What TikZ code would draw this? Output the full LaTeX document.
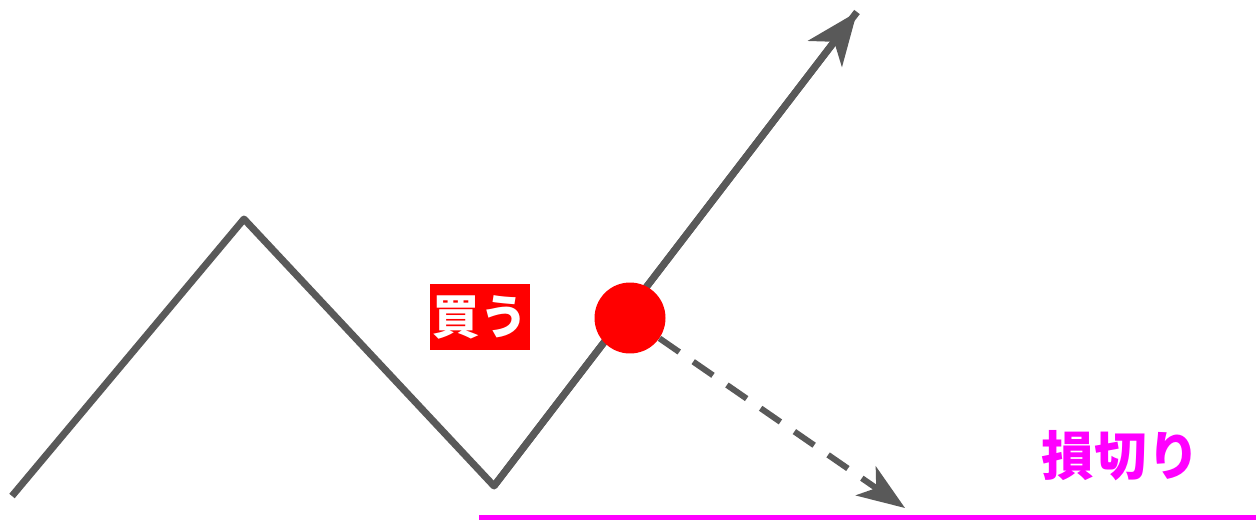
\documentclass[tikz,border=0pt]{standalone}
\usepackage{fontspec}
\newfontfamily\jpfont{Noto Sans CJK JP}
\usetikzlibrary{arrows.meta}
\definecolor{chartgray}{HTML}{595959}
\definecolor{magentaline}{HTML}{FF00FF}
\begin{document}
\begin{tikzpicture}[x=0.02cm, y=-0.02cm, >={Stealth[length=1.05cm, width=0.85cm, inset=0.3cm]}]
  \useasboundingbox (0,0) rectangle (1256,524);
  \coordinate (S) at (12,496);
  \coordinate (P) at (244,219);
  \coordinate (T) at (494,486);
  \coordinate (U) at (857,12);
  \coordinate (D) at (905,508);
  \coordinate (L1) at (479,517);
  \coordinate (L2) at (1256,517);
  \draw[chartgray, line width=0.14cm, line join=round] (S) -- (P) -- (T) -- (U);
  \draw[chartgray, line width=0.14cm, ->] (T) -- (U);
  \node[circle, fill=red, minimum size=1.42cm, inner sep=0pt] (buy) at (630,318) {};
  \draw[chartgray, line width=0.12cm, dash pattern=on 0.48cm off 0.34cm,
        -{Stealth[length=0.95cm, width=0.7cm, inset=0.25cm]}] (buy) -- (D);
  \draw[magentaline, line width=0.1cm] (L1) -- (L2);
  \node[fill=red, text=white, inner xsep=0.05cm, inner ysep=0.22cm, font=\jpfont\bfseries\fontsize{27}{27}\selectfont] (buylabel) at (480,317) {買う};
  \node[text=magentaline, font=\jpfont\bfseries\fontsize{30}{30}\selectfont] (stoplabel) at (1121,456) {損切り};
\end{tikzpicture}
\end{document}
